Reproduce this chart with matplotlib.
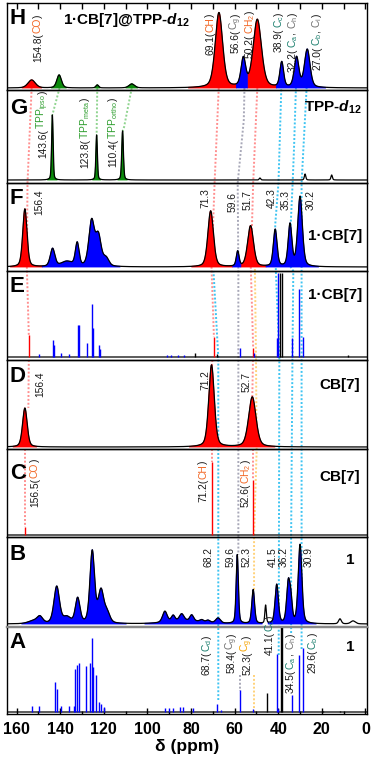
import numpy as np
import matplotlib
matplotlib.use('Agg')
import matplotlib.pyplot as plt
from matplotlib.lines import Line2D
from matplotlib.ticker import MultipleLocator
from matplotlib.transforms import blended_transform_factory

plt.rcParams['font.family'] = ['Liberation Sans', 'DejaVu Sans']
plt.rcParams['mathtext.fontset'] = 'custom'
plt.rcParams['mathtext.rm'] = 'Liberation Sans'
plt.rcParams['mathtext.it'] = 'Liberation Sans:italic'
plt.rcParams['mathtext.bf'] = 'Liberation Sans:bold'
plt.rcParams['mathtext.bfit'] = 'Liberation Sans:bold:italic'
plt.rcParams['mathtext.default'] = 'regular'

# ---- spectra (ppm, height in px above baseline, width in ppm, colour) ----
# solid-state spectra: H, G, F, D, B
H_pos = [153.1, 140.5, 123.0, 107.2, 67.2, 56.0, 49.6, 38.4, 31.6, 26.7]
H_hgt = [8, 13, 3, 4, 75, 28, 68, 25, 30, 38]
H_wid = [4.0, 2.5, 1.5, 3.0, 4.0, 2.5, 4.5, 2.0, 2.5, 3.0]
H_col = ['r', 'g', 'g', 'g', 'r', 'b', 'r', 'b', 'b', 'b']

G_pos = [143.6, 123.3, 111.4, 48.4, 27.7, 15.5]
G_hgt = [65, 45, 49, 2, 6, 5]
G_wid = [0.8, 0.8, 0.9, 0.8, 0.8, 0.8]
G_col = ['g', 'g', 'g', 'k', 'k', 'k']

F_pos = [156.2, 143.5, 137.0, 132.2, 125.6, 122.5, 119.0, 71.0, 58.6, 52.7, 41.4, 34.6, 30.0]
F_hgt = [58, 18, 5, 23, 45, 30, 8, 56, 15, 41, 37, 42, 70]
F_wid = [2.3, 2.5, 6.0, 2.0, 3.0, 3.0, 3.0, 3.0, 1.5, 3.2, 2.0, 2.0, 2.5]
F_col = ['r', 'b', 'b', 'b', 'b', 'b', 'b', 'r', 'b', 'r', 'b', 'b', 'b']

D_pos = [156.2, 70.6, 51.9]
D_hgt = [39, 82, 50]
D_wid = [2.5, 3.0, 4.0]
D_col = ['r', 'r', 'r']

B_pos = [152.0, 149.3, 141.6, 137.0, 132.0, 125.3, 121.3, 118.5, 92.0, 88.2, 84.3,
         82.0, 79.7, 75.1, 72.2, 67.6, 58.8, 51.5, 45.8, 40.7, 35.4, 34.2, 30.0, 11.7, 5.7]
B_hgt = [3, 6, 37, 6, 25, 72, 32, 10, 11, 6, 7,
         3, 6, 2, 2, 5, 69, 34, 18, 39, 40, 20, 79, 5, 3]
B_wid = [6.0, 3.0, 3.0, 4.0, 2.5, 2.5, 3.0, 3.0, 2.5, 2.0, 2.5,
         20.0, 2.0, 2.0, 2.0, 2.5, 1.2, 1.5, 0.8, 1.8, 1.8, 1.5, 2.0, 1.5, 2.5]
B_col = ['b'] * 18 + ['k', 'b', 'b', 'b', 'b', 'k', 'k']

# solution spectra (sticks): E, C, A
E_pos = [154.4, 69.4, 51.5,
         149.9, 143.2, 142.7, 139.7, 136.0, 132.0, 131.4, 127.9, 125.6, 125.1, 122.2, 121.8,
         91.0, 89.0, 86.0, 83.0, 57.6, 50.9, 40.7, 40.2, 33.6, 30.5, 28.5,
         78.2, 68.1, 39.1, 38.3, 8.0]
E_hgt = [22, 20, 9,
         3, 17, 12, 4, 3, 32, 32, 14, 53, 29, 12, 8,
         2, 2, 2, 2, 9, 4, 19, 84, 19, 68, 20,
         4, 3, 84, 84, 2]
E_col = ['r'] * 3 + ['b'] * 23 + ['k'] * 5

C_pos = [156.2, 70.3, 51.7]
C_hgt = [8, 73, 55]
C_col = ['r', 'r', 'r']

A_pos = [152.8, 149.8, 142.4, 141.6, 139.7, 135.9, 133.7, 133.1, 132.2, 131.4, 128.2,
         126.4, 125.6, 125.1, 123.8, 122.1, 121.5, 120.0, 92.0, 90.0, 88.4, 85.1, 83.9,
         79.3, 68.0, 66.3, 57.6, 51.5, 40.7, 40.0, 33.6, 30.4, 28.8,
         45.3, 38.9, 38.4, 19.5, 11.7]
A_hgt = [6, 6, 30, 23, 6, 6, 6, 43, 47, 49, 46,
         49, 74, 45, 37, 10, 8, 5, 4, 4, 4, 5, 5,
         4, 8, 2, 22, 3, 58, 3, 17, 57, 64,
         19, 86, 86, 1, 1]
A_col = ['b'] * 33 + ['k'] * 5

# ---- layout (pixel measurements of the reference) ----
W, Hpx = 371, 759
panel_h = [87, 93, 88, 89, 89, 88, 90, 87]          # H..A
base_px = [88, 180, 267, 357, 447, 535, 624, 712]   # baseline of each panel
offset = [2, 3, 4, 3, 2, 2, 3, 2]
letters = ['H', 'G', 'F', 'E', 'D', 'C', 'B', 'A']
letter_y = [18, 108, 198, 287, 377, 473, 555, 643]

COL = {'r': '#ff0000', 'b': '#0000ff', 'g': '#0a8a0a', 'k': 'black'}
TXT = {'k': '#1a1a1a', 'o': '#f26522', 't': '#1b7f6e', 'y': '#f5a300',
       'gy': '#707070', 'gr': '#2e9e2e'}

fig = plt.figure(figsize=(W / 100, Hpx / 100), dpi=100)
gs = fig.add_gridspec(8, 1, height_ratios=panel_h, hspace=0,
                      left=7 / W, right=367 / W, top=1 - 3 / Hpx, bottom=1 - 714 / Hpx)
axes = [fig.add_subplot(gs[i]) for i in range(8)]
xx = np.linspace(164.4, -0.7, 5000)


def pv(x, c, h, w):
    g = np.exp(-4 * np.log(2) * ((x - c) / w) ** 2)
    l = 1 / (1 + 4 * ((x - c) / w) ** 2)
    return h * (0.65 * g + 0.35 * l)


def draw_broad(ax, pos, hgt, wid, col):
    comps = np.array([pv(xx, c, h, w) for c, h, w in zip(pos, hgt, wid)])
    total = comps.sum(0)
    dom = np.array(col)[comps.argmax(0)]
    ax.plot(xx, total, color='k', lw=0.9)
    for key in ['r', 'b', 'g']:
        m = (dom == key) & (total > 0.7)
        if m.any():
            ax.fill_between(xx, 0, total, where=m, color=COL[key], lw=0.6)


def draw_sticks(ax, pos, hgt, col):
    ax.plot(xx, np.zeros_like(xx), color='k', lw=0.9)
    ax.vlines(pos, 0, hgt, colors=[COL[c] for c in col], lw=1.0)


for i, ax in enumerate(axes):
    ax.set_xlim(164.4, -0.7)
    ax.set_ylim(-offset[i], panel_h[i] - offset[i])
    ax.patch.set_visible(False)
    ax.set_yticks([])
    ax.xaxis.set_major_locator(MultipleLocator(20))
    ax.xaxis.set_minor_locator(MultipleLocator(10))
    ax.tick_params(axis='x', which='both', direction='in', bottom=False, top=False,
                   labelbottom=False)
    for s in ax.spines.values():
        s.set_linewidth(1.0)
    ax.text(0.008, base_px[i] - letter_y[i], letters[i], fontsize=16, fontweight='bold',
            va='center', ha='left', transform=blended_transform_factory(ax.transAxes, ax.transData))

axH, axG, axF, axE, axD, axC, axB, axA = axes
axB.spines['bottom'].set_color('#888888')
axB.spines['bottom'].set_linewidth(1.6)
axA.spines['top'].set_color('#888888')
axA.spines['top'].set_linewidth(1.6)

draw_broad(axH, H_pos, H_hgt, H_wid, H_col)
draw_broad(axG, G_pos, G_hgt, G_wid, G_col)
draw_broad(axF, F_pos, F_hgt, F_wid, F_col)
draw_sticks(axE, E_pos, E_hgt, E_col)
draw_broad(axD, D_pos, D_hgt, D_wid, D_col)
draw_sticks(axC, C_pos, C_hgt, C_col)
draw_broad(axB, B_pos, B_hgt, B_wid, B_col)
draw_sticks(axA, A_pos, A_hgt, A_col)

axH.tick_params(axis='x', which='major', top=True, length=4, width=1)
axH.tick_params(axis='x', which='minor', top=True, length=4, width=1)
axA.tick_params(axis='x', which='major', bottom=True, labelbottom=True, length=4, width=1, pad=6)
axA.tick_params(axis='x', which='minor', bottom=True, length=2, width=1)
for lab in axA.get_xticklabels():
    lab.set_fontweight('bold')
    lab.set_fontsize(11.5)
axA.set_xlabel('δ (ppm)', fontsize=12.5, fontweight='bold', labelpad=1)

# ---- right-hand sample labels ----
d12 = r'$\mathbfit{d}_{\mathbf{12}}$'
axH.text(0.156, 88 - 20, '1·CB[7]@TPP-' + d12, fontsize=11, fontweight='bold', va='center',
         ha='left', transform=blended_transform_factory(axH.transAxes, axH.transData))
side = [(axG, 'TPP-' + d12, 180 - 107, 0.986), (axF, '1·CB[7]', 267 - 236, 0.986),
        (axE, '1·CB[7]', 357 - 295, 0.986), (axD, 'CB[7]', 447 - 385, 0.98),
        (axC, 'CB[7]', 535 - 477, 0.98), (axB, '1', 624 - 560, 0.964), (axA, '1', 712 - 647, 0.964)]
for ax, s, y, xf in side:
    ax.text(xf, y, s, fontsize=11, fontweight='bold', va='center', ha='right',
            transform=blended_transform_factory(ax.transAxes, ax.transData))


# ---- rotated peak labels (multi-coloured pieces) ----
def vlabel(ax, x, ybot, pieces, fs=7.4):
    prev = None
    for s, c in pieces:
        if prev is None:
            prev = ax.text(x, ybot, s, rotation=90, ha='center', va='bottom',
                           color=TXT[c], fontsize=fs, zorder=5)
        else:
            prev = ax.annotate(s, xy=(0.5, 1), xycoords=prev, rotation=90, ha='center',
                               va='bottom', color=TXT[c], fontsize=fs, zorder=5)


def lab(num, inner=None):
    if inner is None:
        return [(num, 'k')]
    out = [(num + '(', 'k')]
    for j, (s, c) in enumerate(inner):
        if j:
            out.append((', ', 'k'))
        out.append((s, c))
    out.append((')', 'k'))
    return out


H_labels = [(150.2, 62, lab('154.8', [('CO', 'o')])), (71.3, 55, lab('69.1', [('CH', 'o')])),
            (59.4, 53, lab('56.6', [('C$_g$', 'gy')])), (53.0, 58, lab('50.2', [('CH$_2$', 'o')])),
            (39.7, 52, lab('38.9', [('C$_c$', 't')])),
            (33.3, 72, lab('32.2', [('C$_a$', 't'), ('C$_h$', 'gy')])),
            (22.2, 70, lab('27.0', [('C$_b$', 't'), ('C$_i$', 'gy')]))]
G_labels = [(147.9, 158, lab('143.6', [('TPP$_{ipso}$', 'gr')])),
            (128.7, 168, lab('123.8', [('TPP$_{meta}$', 'gr')])),
            (115.8, 167, lab('110.4', [('TPP$_{ortho}$', 'gr')]))]
F_labels = [(149.8, 215, lab('156.4')), (73.2, 208, lab('71.3')), (60.8, 212, lab('59.6')),
            (53.9, 210, lab('51.7')), (42.9, 208, lab('42.3')), (36.5, 210, lab('35.3')),
            (25.0, 210, lab('30.2'))]
D_labels = [(149.3, 397, lab('156.4')), (73.6, 390, lab('71.2')), (54.4, 392, lab('52.7'))]
C_labels = [(151.6, 507, lab('156.5', [('CO', 'o')])), (74.5, 502, lab('71.2', [('CH', 'o')])),
            (54.8, 507, lab('52.6', [('CH$_2$', 'o')]))]
B_labels = [(72.2, 567, lab('68.2')), (61.7, 567, lab('59.6')), (54.4, 567, lab('52.3')),
            (42.4, 567, lab('41.5')), (37.4, 567, lab('36.2')), (25.9, 567, lab('30.9'))]
A_labels = [(72.7, 675, lab('68.7', [('C$_d$', 't')])), (61.2, 673, lab('58.4', [('C$_g$', 'gy')])),
            (54.2, 675, lab('52.3', [('C$_g$', 'y')])), (43.8, 655, lab('41.1', [('C$_c$', 't')])),
            (34.2, 693, lab('34.5', [('C$_a$', 't'), ('C$_h$', 'gy')])),
            (24.1, 673, lab('29.6', [('C$_b$', 't')]))]

for i, labels in [(0, H_labels), (1, G_labels), (2, F_labels), (4, D_labels),
                  (5, C_labels), (6, B_labels), (7, A_labels)]:
    for x, ypx, pieces in labels:
        vlabel(axes[i], x, base_px[i] - ypx, pieces)

# ---- dotted guide lines (ppm, figure px from top) ----
guides_red = [[(153.1, 88), (155.0, 183), (155.3, 267), (154.4, 335)],
              [(154.4, 360), (154.6, 408)], [(156.2, 449), (156.2, 527)],
              [(67.3, 88), (69.2, 183), (70.6, 267), (69.5, 337)],
              [(70.2, 360), (70.4, 366)], [(70.6, 449), (70.6, 462)],
              [(49.6, 88), (51.5, 183), (52.6, 267), (51.5, 348)],
              [(51.6, 360), (51.9, 397)], [(51.7, 449), (51.7, 480)]]
guides_grey = [[(55.5, 88), (55.8, 120), (58.6, 183), (58.3, 270), (58.3, 555)],
               [(57.6, 675), (57.6, 691)]]
guides_yellow = [[(50.7, 269), (50.2, 360), (49.9, 449), (51.1, 537), (51.1, 590)],
                 [(51.1, 675), (51.1, 713)]]
guides_cyan = [[(67.5, 700), (67.5, 357), (69.7, 271)],
               [(39.8, 655), (39.5, 357), (41.1, 271), (41.4, 225), (39.9, 183), (38.6, 88)],
               [(34.1, 633), (34.1, 537), (33.5, 360), (33.1, 271), (34.3, 267), (34.3, 225),
                (33.4, 183), (32.8, 150), (31.9, 88)],
               [(29.3, 649), (29.3, 183), (28.5, 150), (27.0, 88)]]
guides_green = [[(140.3, 88), (143.6, 115)], [(123.0, 88), (123.3, 135)],
                [(107.2, 88), (110.7, 127), (111.4, 131)]]

gtr = blended_transform_factory(axA.transData, fig.transFigure)
for group, c in [(guides_red, '#ff8f8f'), (guides_grey, '#a8a8b8'), (guides_yellow, '#ffd27a'),
                 (guides_cyan, '#3ec4f2'), (guides_green, '#8fd48f')]:
    for g in group:
        gx = [p[0] for p in g]
        gy = [1 - p[1] / Hpx for p in g]
        fig.add_artist(Line2D(gx, gy, transform=gtr, color=c, lw=1.4,
                              linestyle=(0, (1, 1)), zorder=-1))

fig.savefig('out.png', dpi=100, facecolor='white')
